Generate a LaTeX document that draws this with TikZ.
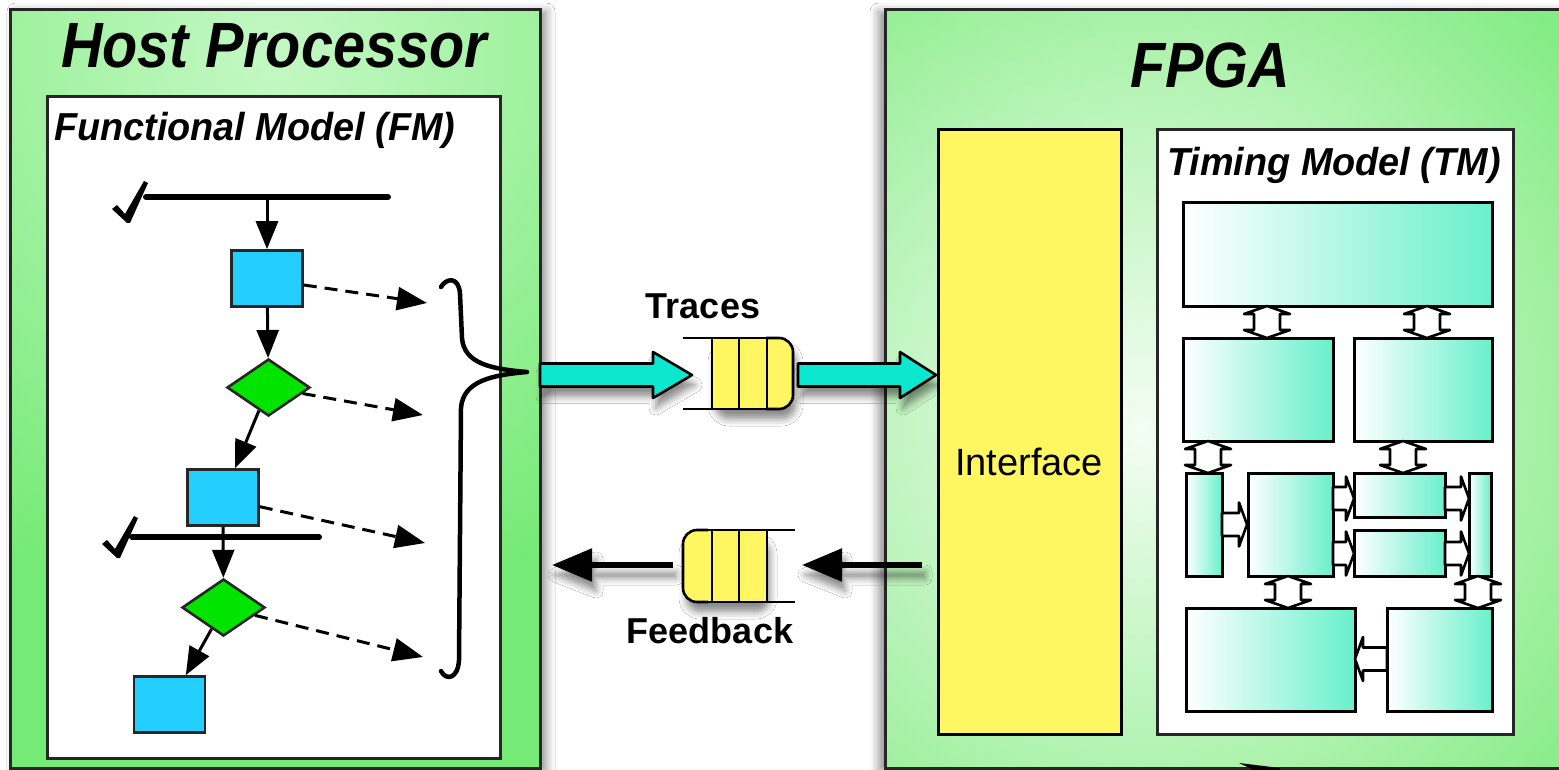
\documentclass[tikz,border=0pt]{standalone}
\usepackage{fontspec}
\setmainfont{Liberation Sans}
\usetikzlibrary{arrows.meta,shapes.geometric,shadows.blur}

\definecolor{framegreen}{RGB}{118,234,118}
\definecolor{framelight}{RGB}{196,248,196}
\definecolor{ifyellow}{RGB}{255,246,98}
\definecolor{flowblue}{RGB}{36,206,255}
\definecolor{flowgreen}{RGB}{0,228,0}
\definecolor{linkcyan}{RGB}{12,232,208}
\definecolor{tmaqua}{RGB}{104,240,204}

% hollow double-headed link between timing-model blocks: centre x, top y, bottom y
\newcommand\tmvlink[3]{%
  \draw[tmlink] (#1,#2) -- ({#1+23},{#2+8}) -- ({#1+13},{#2+8}) -- ({#1+13},{#3-8})
    -- ({#1+23},{#3-8}) -- (#1,#3) -- ({#1-23},{#3-8}) -- ({#1-13},{#3-8})
    -- ({#1-13},{#2+8}) -- ({#1-23},{#2+8}) -- cycle;}
% hollow one-way link: tail x, tip x, centre y, direction (+1 right, -1 left)
\newcommand\tmhlink[4]{%
  \draw[tmlink] (#1,{#3-11.5}) -- ({#2-8*(#4)},{#3-11.5}) -- ({#2-8*(#4)},{#3-22})
    -- (#2,#3) -- ({#2-8*(#4)},{#3+22}) -- ({#2-8*(#4)},{#3+11.5}) -- (#1,{#3+11.5}) -- cycle;}

\begin{document}
\begin{tikzpicture}[x=1pt,y=-1pt,
  frame/.style={draw=black!85, line width=3pt},
  panel/.style={draw=black!85, fill=white, line width=3pt},
  flowbox/.style={rectangle, draw=black!85, fill=flowblue, line width=2.6pt,
    minimum width=71pt, minimum height=56pt, inner sep=0pt},
  flowdec/.style={diamond, draw=black!85, fill=flowgreen, line width=2.6pt,
    minimum width=83pt, minimum height=57pt, inner sep=0pt},
  flowarrow/.style={draw=black, line width=3pt, -{Triangle[length=28pt,width=22pt]}},
  tracearrow/.style={draw=black, line width=3pt, dash pattern=on 13pt off 8pt,
    -{Triangle[length=30pt,width=23pt]}},
  bar/.style={line width=6pt, line cap=round},
  tickmark/.style={fill=black},
  tmblock/.style={draw=black, line width=3pt, left color=white, right color=tmaqua},
  tmlink/.style={draw=black, fill=white, line width=2.6pt, line join=round},
  bigarrow/.style={draw=black, fill=linkcyan, line width=2.6pt, line join=round},
  qline/.style={draw=black, line width=2.6pt},
  fbarrow/.style={draw=black, line width=5.5pt, -{Triangle[length=40pt,width=32pt]}},
  softshadow/.style={blur shadow={shadow xshift=3pt, shadow yshift=-10pt,
    shadow blur radius=7pt, shadow opacity=45}},
  title/.style={inner sep=0pt, anchor=base, font=\bfseries\itshape\fontsize{64}{64}\selectfont},
  subtitle/.style={inner sep=0pt, anchor=base west, font=\bfseries\itshape\fontsize{39}{39}\selectfont},
  qlabel/.style={inner sep=0pt, anchor=base, font=\bfseries\fontsize{36}{36}\selectfont},
]
\useasboundingbox (0,0) rectangle (1559,770);
\clip (0,0) rectangle (1559,770);
\fill[white] (0,0) rectangle (1559,770);

% ---------------- Host processor frame ----------------
\path[blur shadow={shadow xshift=6pt, shadow yshift=-2pt, shadow blur radius=9pt, shadow opacity=45}]
  (10,10) rectangle (540,768);
\begin{scope}
  \clip (10,10) rectangle (540,768);
  \fill[framegreen] (10,10) rectangle (540,768);
  \shade[inner color=framelight, outer color=framegreen] (275,55) circle (560pt);
\end{scope}
\draw[frame] (10,10) rectangle (540,768);
\node[title] (hosttitle) at (274,68) {\scalebox{0.9}[1]{Host Processor}};

% ---------------- FPGA frame ----------------
\path[blur shadow={shadow xshift=-6pt, shadow yshift=-2pt, shadow blur radius=9pt, shadow opacity=45}]
  (885,10) rectangle (1620,768);
\begin{scope}
  \clip (885,10) rectangle (1620,768);
  \fill[framegreen] (885,10) rectangle (1620,768);
  \shade[inner color=framelight, outer color=framegreen] (1200,70) circle (520pt);
  \shade[inner color=white, outer color=framegreen, opacity=0.9] (1140,430) circle (640pt);
\end{scope}
\draw[frame] (885,10) rectangle (1620,768);
\node[title] (fpgatitle) at (1210,88) {\scalebox{0.9}[1]{FPGA}};

% ---------------- Functional model ----------------
\path[panel] (47,97) rectangle (500,758);
\node[subtitle] (fmtitle) at (54,141) {\scalebox{0.97}[1]{Functional Model (FM)}};

\draw[bar] (146,197) -- (388,197);
\draw[bar] (132,537) -- (319,537);
\coordinate (bar1) at (267,197);
\begin{scope}[shift={(127,223)}]
  \fill[tickmark] (0,0) -- (-15,-14) -- (-10,-18) -- (-2,-9) -- (17,-42) -- (21,-40) -- (3,0) -- cycle;
\end{scope}
\begin{scope}[shift={(117,558)}]
  \fill[tickmark] (0,0) -- (-15,-14) -- (-10,-18) -- (-2,-9) -- (17,-42) -- (21,-40) -- (3,0) -- cycle;
\end{scope}

\node[flowbox] (b1) at (267,278.5) {};
\node[flowdec] (d1) at (268.5,387.5) {};
\node[flowbox] (b2) at (223,497.5) {};
\node[flowdec] (d2) at (223.5,607.5) {};
\node[flowbox] (b3) at (169.5,704.5) {};

\draw[flowarrow] (bar1) -- (b1);
\draw[flowarrow] (b1) -- (d1);
\draw[flowarrow] (d1) -- (b2);
\draw[flowarrow] (b2) -- (d2);
\draw[flowarrow] (d2) -- (b3);

\coordinate (t1) at (427,303);
\coordinate (t2) at (423,415);
\coordinate (t3) at (425,543);
\coordinate (t4) at (423,657);
\draw[tracearrow] (b1.-10) -- (t1);
\draw[tracearrow] (d1.-10) -- (t2);
\draw[tracearrow] (b2.-14) -- (t3);
\draw[tracearrow] (d2.-14) -- (t4);

% brace gathering the trace
\draw[line width=4.5pt, line cap=round, line join=round]
  (441,287) .. controls (446,278) and (459,276) .. (460,294)
  -- (462,338) .. controls (464,364) and (492,369) .. (527,372)
  .. controls (492,375) and (463,381) .. (461,408)
  -- (459,660) .. controls (458,679) and (446,681) .. (441,671);

% ---------------- Trace path ----------------
\path[softshadow] (540,363.5) -- (653,363.5) -- (653,352) -- (692,375) -- (653,398) -- (653,386.5) -- (540,386.5) -- cycle;
\path[softshadow, rounded corners=14pt] (712,338) -- (793,338) -- (793,409) -- (712,409) -- cycle;
\path[softshadow] (798,363.5) -- (900,363.5) -- (900,352) -- (936,375) -- (900,398) -- (900,386.5) -- (798,386.5) -- cycle;

\draw[bigarrow] (540,363.5) -- (653,363.5) -- (653,352) -- (692,375) -- (653,398) -- (653,386.5) -- (540,386.5) -- cycle;
\fill[ifyellow] (712,338) rectangle (772,409);
\draw[qline, fill=ifyellow, rounded corners=14pt] (766,338) -- (793,338) -- (793,409) -- (766,409);
\draw[qline] (683,338) -- (768,338) (683,409) -- (768,409)
  (712,338) -- (712,409) (739,338) -- (739,409) (767,338) -- (767,409);
\draw[bigarrow] (798,363.5) -- (900,363.5) -- (900,352) -- (936,375) -- (900,398) -- (900,386.5) -- (798,386.5) -- cycle;
\node[qlabel] (traceslbl) at (703,318) {Traces};

% ---------------- Feedback path ----------------
\path[softshadow, rounded corners=14pt] (683,530) -- (767,530) -- (767,602) -- (683,602) -- cycle;
\path[softshadow] (922,562) -- (842,562) -- (842,549) -- (802,565) -- (842,581) -- (842,568) -- (922,568) -- cycle;
\path[softshadow] (673,562) -- (593,562) -- (593,549) -- (552,565) -- (593,581) -- (593,568) -- (673,568) -- cycle;

\fill[ifyellow] (702,530) rectangle (767,602);
\draw[qline, fill=ifyellow, rounded corners=14pt] (708,530) -- (683,530) -- (683,602) -- (708,602);
\draw[qline] (706,530) -- (795,530) (706,602) -- (795,602)
  (712,530) -- (712,602) (739,530) -- (739,602) (767,530) -- (767,602);
\coordinate (fbsrc) at (922,565);
\coordinate (fbqin) at (802,565);
\coordinate (fbqout) at (673,565);
\coordinate (fbdst) at (552,565);
\draw[fbarrow] (fbsrc) -- (fbqin);
\draw[fbarrow] (fbqout) -- (fbdst);
\node[qlabel] (feedbacklbl) at (710,643) {Feedback};

% ---------------- FPGA contents ----------------
\path[draw=black, line width=3pt, fill=ifyellow] (938,130) rectangle (1121,734);
\node[inner sep=0pt, font=\fontsize{38}{38}\selectfont] (iface) at (1029,462) {Interface};

\path[panel] (1157,130) rectangle (1513,734);
\node[subtitle] (tmtitle) at (1167,176) {\scalebox{0.97}[1]{Timing Model (TM)}};

\path[tmblock] (1183,203) rectangle (1492,306);
\path[tmblock] (1183,338) rectangle (1333,441);
\path[tmblock] (1354,338) rectangle (1492,441);
\path[tmblock] (1186,473) rectangle (1222,576);
\path[tmblock] (1248,473) rectangle (1333,576);
\path[tmblock] (1354,473) rectangle (1445,517);
\path[tmblock] (1354,530) rectangle (1445,576);
\path[tmblock] (1469,473) rectangle (1491,576);
\path[tmblock] (1186,608) rectangle (1355,711);
\path[tmblock] (1387,608) rectangle (1492,711);

\tmvlink{1267}{306}{338}
\tmvlink{1427}{306}{338}
\tmvlink{1208}{441}{473}
\tmvlink{1403}{441}{473}
\tmvlink{1288}{576}{608}
\tmvlink{1478}{576}{608}
\tmhlink{1222}{1247}{524.5}{1}
\tmhlink{1333}{1354}{498.5}{1}
\tmhlink{1333}{1354}{553.5}{1}
\tmhlink{1445}{1469}{498.5}{1}
\tmhlink{1445}{1469}{553.5}{1}
\tmhlink{1387}{1355}{659}{-1}

% arrowhead entering from below the frame
\fill (1239,763) -- (1280,768) -- (1280,772) -- (1258,772) -- cycle;
\end{tikzpicture}
\end{document}
